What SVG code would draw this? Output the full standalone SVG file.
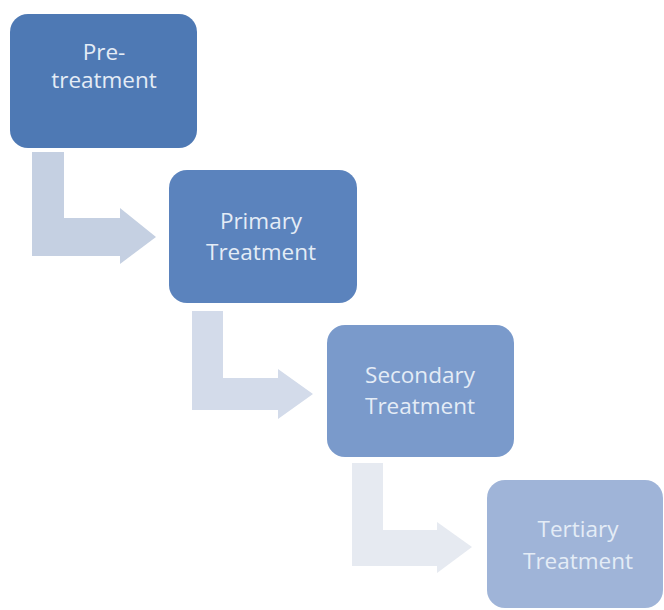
<svg xmlns="http://www.w3.org/2000/svg" width="664" height="610" viewBox="0 0 664 610">
<style>
.t{font-family:"Open Sans","Noto Sans",sans-serif;font-size:22.5px;fill:#e4ecf6;text-anchor:middle}
</style>
<rect width="664" height="610" fill="#ffffff"/>
<g id="connectors">
<path d="M32,152 H64 V218 H120 V208 L156,237 L120,264 V256 H32 Z" fill="#c5d0e2"/>
<path d="M192,311 H223 V378 H278 V369 L313,394 L278,419 V410 H192 Z" fill="#d3dbea"/>
<path d="M352,463 H383 V530 H437 V522 L472,547 L437,573 V566 H352 Z" fill="#e6eaf1"/>
</g>
<g id="n1">
<rect x="10" y="14" width="187" height="134" rx="18" fill="#4e79b4"/>
<text class="t" x="104" y="60">Pre-</text>
<text class="t" x="104" y="88">treatment</text>
</g>
<g id="n2">
<rect x="169" y="170" width="188" height="133" rx="18" fill="#5b83bd"/>
<text class="t" x="261" y="229">Primary</text>
<text class="t" x="261" y="260">Treatment</text>
</g>
<g id="n3">
<rect x="327" y="325" width="187" height="132" rx="18" fill="#7a9acb"/>
<text class="t" x="420" y="383">Secondary</text>
<text class="t" x="420" y="414">Treatment</text>
</g>
<g id="n4">
<rect x="487" y="480" width="176" height="128" rx="18" fill="#9fb4d8"/>
<text class="t" x="578" y="537">Tertiary</text>
<text class="t" x="578" y="569">Treatment</text>
</g>
</svg>
